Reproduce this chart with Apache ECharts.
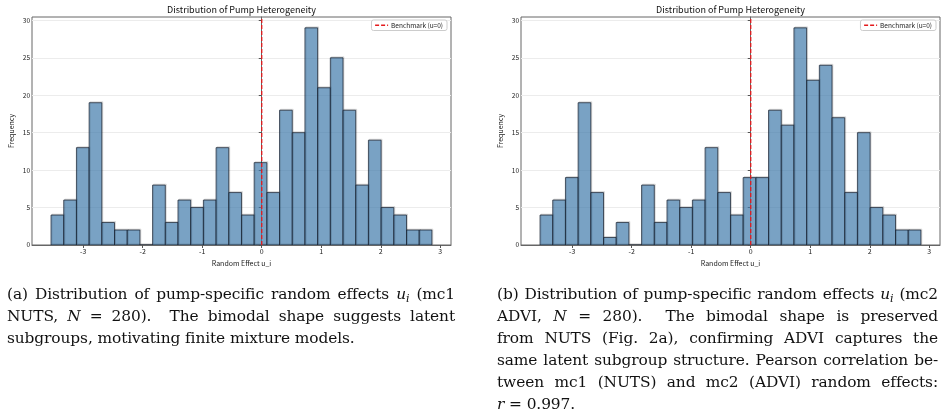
<!DOCTYPE html>
<html>
<head>
<meta charset="utf-8">
<script src="https://cdn.jsdelivr.net/npm/echarts@6/dist/echarts.min.js"></script>
<style>
  html, body { margin: 0; padding: 0; background: #fff; }
  #wrap { position: relative; width: 952px; height: 415px; overflow: hidden; }
  #chart { position: absolute; left: 0; top: 0; width: 952px; height: 415px; }
  .cap { position: absolute; font-family: "DejaVu Serif", "Liberation Serif", serif; font-size: 15.4px; color: #111; letter-spacing: -0.1px; }
  .cap div { height: 22px; line-height: 22px; white-space: nowrap; }
  .cap .j { text-align: justify; text-align-last: justify; }
  .cap sub { font-size: 11px; vertical-align: -3px; line-height: 0; }
</style>
</head>
<body>
<div id="wrap">
  <div id="chart"></div>
  <div class="cap" style="left:7px; top:283px; width:448px;">
    <div class="j">(a) Distribution of pump-specific random effects <i>u</i><sub><i>i</i></sub> (mc1</div>
    <div class="j">NUTS, <i>N</i> = 280). &nbsp;The bimodal shape suggests latent</div>
    <div>subgroups, motivating finite mixture models.</div>
  </div>
  <div class="cap" style="left:497px; top:283px; width:441px;">
    <div class="j">(b) Distribution of pump-specific random effects <i>u</i><sub><i>i</i></sub> (mc2</div>
    <div class="j">ADVI, <i>N</i> = 280). &nbsp;The bimodal shape is preserved</div>
    <div class="j">from NUTS (Fig. 2a), confirming ADVI captures the</div>
    <div class="j">same latent subgroup structure. Pearson correlation be-</div>
    <div class="j">tween mc1 (NUTS) and mc2 (ADVI) random effects:</div>
    <div><i>r</i> = 0.997.</div>
  </div>
</div>
<script>
// histogram: 30 bins between the sample min and max
var binStart = -3.54;
var binWidth = 0.2133;
var countsNuts = [4, 6, 13, 19, 3, 2, 2, 0, 8, 3, 6, 5, 6, 13, 7, 4, 11, 7, 18, 15, 29, 21, 25, 18, 8, 14, 5, 4, 2, 2];
var countsAdvi = [4, 6, 9, 19, 7, 1, 3, 0, 8, 3, 6, 5, 6, 13, 7, 4, 9, 9, 18, 16, 29, 22, 24, 17, 7, 15, 5, 4, 2, 2];
var xTicks = [-3, -2, -1, 0, 1, 2, 3];
var yTicks = [0, 5, 10, 15, 20, 25, 30];
var benchmark = 0;
var xMin = -3.86, xMax = 3.18, yMax = 30.45;

var font = '"Noto Sans CJK JP", "Noto Sans", sans-serif';

function toBins(counts) {
    var out = [];
    for (var i = 0; i < counts.length; i++) {
        out.push([binStart + i * binWidth, binStart + (i + 1) * binWidth, counts[i]]);
    }
    return out;
}

function renderBar(params, api) {
    var top = api.coord([api.value(0), api.value(2)]);
    var base = api.coord([api.value(1), 0]);
    return {
        type: 'rect',
        shape: { x: top[0], y: top[1], width: base[0] - top[0], height: base[1] - top[1] },
        style: { fill: 'rgba(70,130,180,0.68)', stroke: 'rgba(25,35,50,0.75)', lineWidth: 1,
                 shadowColor: 'rgba(0,0,0,0.15)', shadowOffsetX: 1, shadowOffsetY: -1 }
    };
}

var panels = [
    { left: 32, counts: countsNuts },
    { left: 521, counts: countsAdvi }
];
var plotW = 419;

var grids = [], xAxes = [], yAxes = [], series = [], legends = [], titles = [];
panels.forEach(function (p, k) {
    grids.push({ left: p.left, top: 17, width: plotW, height: 228, show: true,
                 borderColor: '#666', borderWidth: 1 });
    xAxes.push({
        type: 'value', gridIndex: k, min: xMin, max: xMax,
        name: 'Random Effect u_i', nameLocation: 'middle', nameGap: 14,
        nameTextStyle: { fontSize: 7, fontFamily: font, color: '#222' },
        axisLine: { show: true, lineStyle: { color: '#666' } },
        axisTick: { show: true, length: 3, lineStyle: { color: '#555' }, customValues: xTicks },
        axisLabel: { fontSize: 7, fontFamily: font, color: '#222', margin: 3, customValues: xTicks },
        splitLine: { show: false }
    });
    yAxes.push({
        type: 'value', gridIndex: k, min: 0, max: yMax,
        name: 'Frequency', nameLocation: 'middle', nameGap: 17,
        nameTextStyle: { fontSize: 7, fontFamily: font, color: '#222' },
        axisLine: { show: true, lineStyle: { color: '#666' } },
        axisTick: { show: true, length: 3, lineStyle: { color: '#555' }, customValues: yTicks },
        axisLabel: { fontSize: 6.5, fontFamily: font, color: '#222', margin: 2, customValues: yTicks },
        splitLine: { show: true, lineStyle: { color: '#ececec', width: 1 } }
    });
    series.push({
        type: 'custom', xAxisIndex: k, yAxisIndex: k,
        renderItem: renderBar, clip: true,
        encode: { x: [0, 1], y: 2 },
        data: toBins(p.counts), z: 2
    });
    series.push({
        type: 'line', name: 'Benchmark (u=0)', xAxisIndex: k, yAxisIndex: k,
        data: [[benchmark, 0], [benchmark, yMax]], symbol: 'none', z: 3,
        lineStyle: { color: '#e41a1c', width: 1.3, type: [4, 2] },
        itemStyle: { color: '#e41a1c' }
    });
    legends.push({
        data: ['Benchmark (u=0)'],
        right: 952 - (p.left + plotW) + 4, top: 20,
        orient: 'vertical', padding: [2, 4, 2, 3], itemWidth: 13, itemHeight: 6,
        backgroundColor: '#fff', borderColor: '#ccc', borderWidth: 1, borderRadius: 2,
        itemStyle: { opacity: 0 },
        lineStyle: { color: '#e41a1c', width: 1.3, type: [4, 2] },
        textStyle: { fontSize: 6.5, fontFamily: font, color: '#222', padding: [0, 0, 0, -2] },
        selectedMode: false
    });
    titles.push({
        type: 'text', x: p.left + plotW / 2, y: 10,
        style: { text: 'Distribution of Pump Heterogeneity', fontSize: 9, fontFamily: font,
                 fill: '#111', align: 'center', verticalAlign: 'middle' }
    });
});

var chart = echarts.init(document.getElementById('chart'), null, { renderer: 'canvas' });
chart.setOption({
    animation: false,
    backgroundColor: 'transparent',
    grid: grids,
    xAxis: xAxes,
    yAxis: yAxes,
    legend: legends,
    graphic: titles,
    series: series
});
</script>
</body>
</html>
